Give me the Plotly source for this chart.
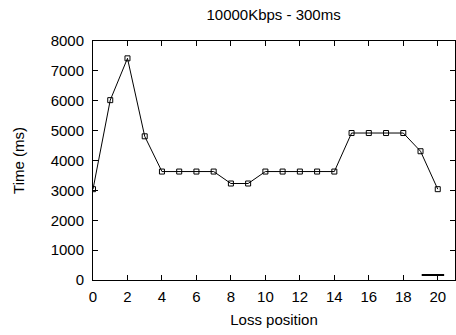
import plotly.graph_objects as go

# Loss position vs. total transfer time
loss_position = list(range(21))
time_ms = [3040, 6020, 7420, 4810, 3630, 3630, 3630, 3630, 3230, 3230,
           3630, 3630, 3630, 3630, 3630, 4920, 4920, 4920, 4920, 4310, 3040]

x_ticks = list(range(0, 21, 2))
y_ticks = list(range(0, 8001, 1000))

font = dict(family="Liberation Sans, Arial, sans-serif", size=15, color="black")

fig = go.Figure()
fig.add_trace(go.Scatter(
    x=loss_position, y=time_ms, mode="lines+markers",
    line=dict(color="black", width=1),
    marker=dict(symbol="square-open", size=5, color="black", line=dict(width=1)),
    showlegend=False,
))

# key sample line in the lower right corner
fig.add_shape(type="line", xref="paper", yref="paper",
              x0=0.908, x1=0.970, y0=0.021, y1=0.021,
              line=dict(color="black", width=2))

axis_common = dict(
    showgrid=False, zeroline=False, showline=True, linecolor="black", linewidth=1,
    mirror="allticks", ticks="inside", ticklen=5, tickcolor="black",
    tickfont=font,
)

fig.update_layout(
    width=456, height=335,
    margin=dict(l=93, r=1, t=41, b=55),
    paper_bgcolor="white", plot_bgcolor="white",
    font=font,
    title=dict(text="10000Kbps - 300ms", x=0.6, xanchor="center", y=0.955,
               yanchor="middle", font=font),
    xaxis=dict(range=[0, 21], tickvals=x_ticks, ticklabelstandoff=3,
               title=dict(text="Loss position", standoff=10, font=font), **axis_common),
    yaxis=dict(range=[0, 8000], tickvals=y_ticks, ticklabelstandoff=5,
               title=dict(text="Time (ms)", standoff=22, font=font), **axis_common),
)

fig.write_html("out.html")
